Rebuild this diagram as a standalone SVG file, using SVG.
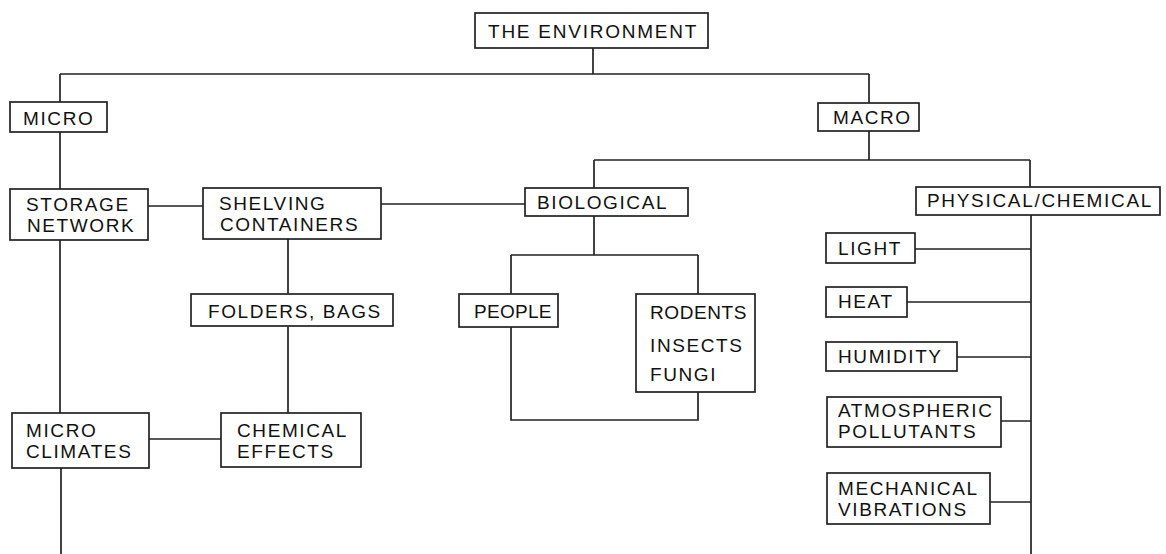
<svg xmlns="http://www.w3.org/2000/svg" width="1166" height="554" viewBox="0 0 1166 554">
<style>
.box{fill:#fff;stroke:#222;stroke-width:1.7}
.ln{fill:none;stroke:#222;stroke-width:1.7}
text{font-family:"Liberation Sans",Arial,sans-serif;font-size:19px;letter-spacing:1.6px;fill:#111}
</style>
<rect width="1166" height="554" fill="#fff"/>
<g id="connectors" class="ln">
<path d="M593,48V74M60,74H869M60,74V102M869,74V103"/>
<path d="M60,132V189M60,240V413M61,468V554"/>
<path d="M148,206H203M381,204H525"/>
<path d="M288,239V294M288,326V413M149,439H221"/>
<path d="M869,131V160M594,160H1030M594,160V188M1030,160V187"/>
<path d="M594,216V255M511,255H698M511,255V294M698,255V294"/>
<path d="M511,327V420H698V392"/>
<path d="M1031,215V554"/>
<path d="M915,249H1031M907,302H1031M957,357H1031M1001,421H1031M990,502H1031"/>
</g>
<g id="env"><rect class="box" x="475" y="13" width="233" height="35"/><text x="488" y="38" textLength="210" lengthAdjust="spacing">THE ENVIRONMENT</text></g>
<g id="micro"><rect class="box" x="10" y="102" width="97" height="30"/><text x="23" y="125">MICRO</text></g>
<g id="macro"><rect class="box" x="818" y="103" width="101" height="28"/><text x="833" y="124">MACRO</text></g>
<g id="storage"><rect class="box" x="10" y="189" width="138" height="51"/><text x="26" y="211">STORAGE</text><text x="27" y="232">NETWORK</text></g>
<g id="shelving"><rect class="box" x="203" y="188" width="178" height="51"/><text x="219" y="210">SHELVING</text><text x="220" y="231">CONTAINERS</text></g>
<g id="folders"><rect class="box" x="191" y="294" width="202" height="32"/><text x="208" y="318">FOLDERS, BAGS</text></g>
<g id="microclimates"><rect class="box" x="12" y="413" width="137" height="55"/><text x="26" y="437">MICRO</text><text x="26" y="458">CLIMATES</text></g>
<g id="chemeffects"><rect class="box" x="221" y="413" width="140" height="54"/><text x="237" y="437">CHEMICAL</text><text x="237" y="458">EFFECTS</text></g>
<g id="biological"><rect class="box" x="525" y="188" width="163" height="28"/><text x="537" y="209">BIOLOGICAL</text></g>
<g id="people"><rect class="box" x="459" y="294" width="99" height="33"/><text x="474" y="318" textLength="79" lengthAdjust="spacing">PEOPLE</text></g>
<g id="rodents"><rect class="box" x="636" y="294" width="119" height="98"/><text x="650" y="319" textLength="98" lengthAdjust="spacing">RODENTS</text><text x="650" y="352">INSECTS</text><text x="650" y="381">FUNGI</text></g>
<g id="physchem"><rect class="box" x="916" y="187" width="244" height="28"/><text x="927" y="207" textLength="226" lengthAdjust="spacing">PHYSICAL/CHEMICAL</text></g>
<g id="light"><rect class="box" x="826" y="233" width="89" height="30"/><text x="838" y="255">LIGHT</text></g>
<g id="heat"><rect class="box" x="826" y="287" width="81" height="30"/><text x="838" y="308">HEAT</text></g>
<g id="humidity"><rect class="box" x="826" y="342" width="131" height="29"/><text x="838" y="363">HUMIDITY</text></g>
<g id="atmos"><rect class="box" x="827" y="397" width="174" height="50"/><text x="838" y="417">ATMOSPHERIC</text><text x="838" y="438">POLLUTANTS</text></g>
<g id="mech"><rect class="box" x="827" y="473" width="163" height="51"/><text x="838" y="495">MECHANICAL</text><text x="838" y="516">VIBRATIONS</text></g>
</svg>
